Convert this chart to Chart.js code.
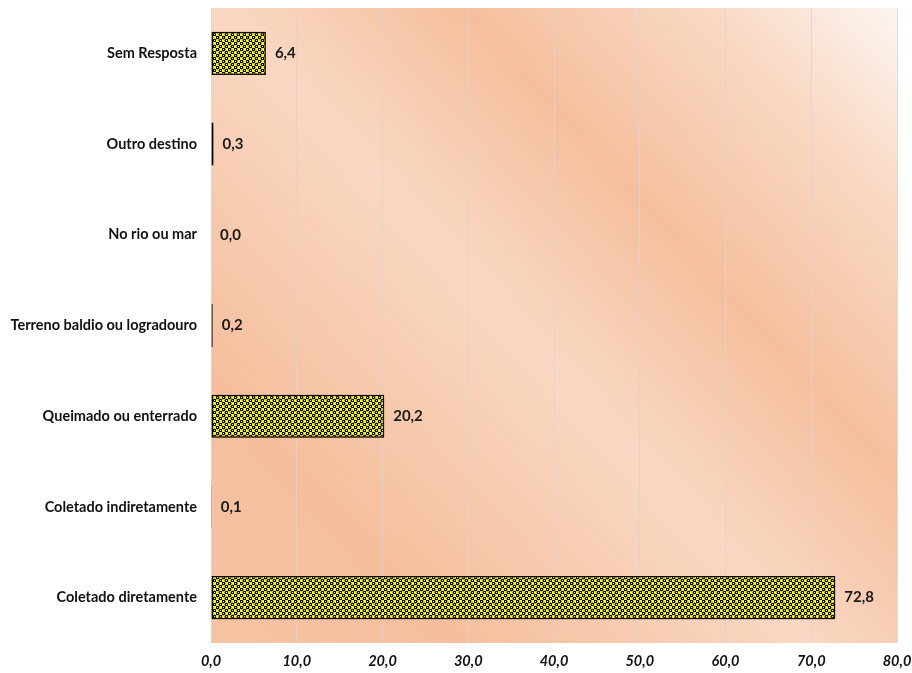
<!DOCTYPE html>
<html>
<head>
<meta charset="utf-8">
<script src="https://cdn.jsdelivr.net/npm/chart.js@4"></script>
<style>
  html, body { margin: 0; padding: 0; background: #fff; }
  #wrap { width: 912px; height: 673px; }
</style>
</head>
<body>
<div id="wrap"><canvas id="chart"></canvas></div>
<script>
const categories = [
  "Sem Resposta",
  "Outro destino",
  "No rio ou mar",
  "Terreno baldio ou logradouro",
  "Queimado ou enterrado",
  "Coletado indiretamente",
  "Coletado diretamente"
];
const values = [6.4, 0.3, 0.0, 0.2, 20.2, 0.1, 72.8];
const axisTicks = [0, 10, 20, 30, 40, 50, 60, 70, 80];

const fmt = (v) => v.toFixed(1).replace(".", ",");
const FONT = "Lato, 'Open Sans', sans-serif";

// yellow fill with staggered black dots for the bars
function dotPattern() {
  const c = document.createElement("canvas");
  c.width = 6;
  c.height = 6;
  const g = c.getContext("2d");
  g.fillStyle = "#ffff00";
  g.fillRect(0, 0, 6, 6);
  g.fillStyle = "#000";
  [[1.5, 1.5], [4.5, 4.5]].forEach(([x, y]) => {
    g.beginPath();
    g.arc(x, y, 1.85, 0, Math.PI * 2);
    g.fill();
  });
  g.fillStyle = "#ffff00";
  g.fillRect(1, 1, 1, 1);
  g.fillRect(4, 4, 1, 1);
  return g.createPattern(c, "repeat");
}

// peach banded gradient behind the plot
const plotBackground = {
  id: "plotBackground",
  beforeDraw(chart) {
    const { ctx, chartArea: a } = chart;
    const grad = ctx.createLinearGradient(a.left, a.bottom, a.right, a.top);
    grad.addColorStop(0, "#f5c3a3");
    grad.addColorStop(0.2, "#f5bf9d");
    grad.addColorStop(0.47, "#f9d8c3");
    grad.addColorStop(0.66, "#f5bf9d");
    grad.addColorStop(0.86, "#f9dac6");
    grad.addColorStop(1, "#fdf5f0");
    ctx.save();
    ctx.fillStyle = grad;
    ctx.fillRect(a.left, a.top, a.right - a.left, a.bottom - a.top);
    ctx.restore();
  }
};

const barShadow = {
  id: "barShadow",
  beforeDatasetsDraw(chart) {
    const ctx = chart.ctx;
    ctx.save();
    ctx.shadowColor = "rgba(60,30,10,0.45)";
    ctx.shadowOffsetX = 2;
    ctx.shadowOffsetY = 3;
    ctx.shadowBlur = 4;
  },
  afterDatasetsDraw(chart) {
    chart.ctx.restore();
  }
};

const valueLabels = {
  id: "valueLabels",
  afterDatasetsDraw(chart) {
    const ctx = chart.ctx;
    const meta = chart.getDatasetMeta(0);
    ctx.save();
    ctx.font = "bold 15px " + FONT;
    ctx.fillStyle = "#1a1a1a";
    ctx.textAlign = "left";
    ctx.textBaseline = "middle";
    meta.data.forEach((bar, i) => {
      ctx.fillText(fmt(values[i]), bar.x + 9, bar.y);
    });
    ctx.restore();
  }
};

function noPadding(scale) {
  scale.paddingTop = 0;
  scale.paddingBottom = 0;
  scale.paddingLeft = 0;
  scale.paddingRight = 0;
}

new Chart(document.getElementById("chart"), {
  type: "bar",
  data: {
    labels: categories,
    datasets: [{
      data: values,
      backgroundColor: dotPattern(),
      borderColor: "#000",
      borderWidth: 1.5,
      borderSkipped: false,
      barPercentage: 0.5,
      categoryPercentage: 0.95
    }]
  },
  options: {
    indexAxis: "y",
    responsive: true,
    maintainAspectRatio: false,
    animation: false,
    layout: { padding: { top: 8, right: 15, bottom: 0, left: 0 } },
    plugins: {
      legend: { display: false },
      tooltip: { enabled: false }
    },
    scales: {
      x: {
        min: axisTicks[0],
        max: axisTicks[axisTicks.length - 1],
        afterBuildTicks(scale) {
          scale.ticks = axisTicks.map((v) => ({ value: v }));
        },
        afterFit(scale) {
          scale.height = 30;
          noPadding(scale);
        },
        grid: { color: "rgba(218,212,210,0.85)", lineWidth: 1, drawTicks: false },
        border: { display: false },
        ticks: {
          padding: 10,
          color: "#111",
          font: { family: FONT, size: 14.5, weight: "bold", style: "italic" },
          callback: (v) => fmt(v)
        }
      },
      y: {
        afterFit(scale) {
          scale.width = 211;
          noPadding(scale);
        },
        grid: { display: false, drawTicks: false },
        border: { display: false },
        ticks: {
          padding: 14,
          color: "#111",
          font: { family: FONT, size: 14.5, weight: "bold" }
        }
      }
    }
  },
  plugins: [plotBackground, barShadow, valueLabels]
});
</script>
</body>
</html>
